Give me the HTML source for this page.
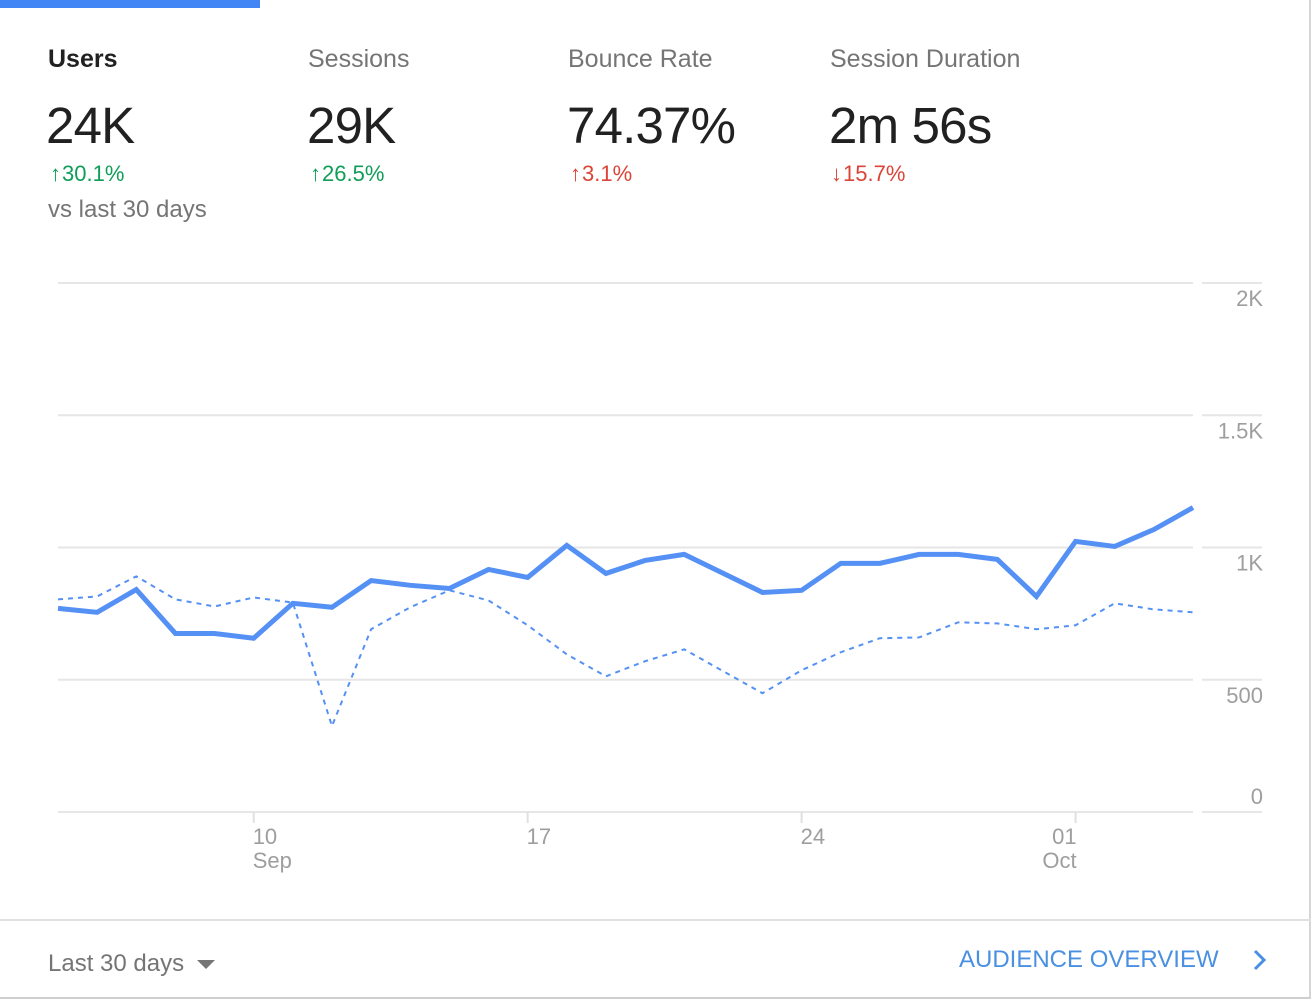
<!DOCTYPE html>
<html><head><meta charset="utf-8">
<style>
html,body{margin:0;padding:0;background:#fff;}
body{width:1314px;height:1002px;position:relative;overflow:hidden;font-family:"Liberation Sans",sans-serif;}
.card{position:absolute;left:0;top:0;width:1311px;height:999px;border-right:2px solid #d6d6d6;border-bottom:2px solid #cfcfcf;box-sizing:border-box;}
.tab{position:absolute;left:0;top:0;width:260px;height:8px;background:#4285f4;}
.m{position:absolute;white-space:nowrap;}
.t{font-size:25px;color:#757575;top:45px;}
.v{font-size:51px;color:#212121;top:96px;letter-spacing:-0.8px;}
.c{font-size:22px;top:161px;}
.c b{font-weight:bold;margin-right:1px;}
.up{color:#0f9d58;}
.dn{color:#db4437;}
svg{position:absolute;left:0;top:0;}
</style></head>
<body>
<div class="card"></div>
<div class="tab"></div>

<div class="m t" style="left:48px;color:#212121;font-weight:bold;">Users</div>
<div class="m t" style="left:308px;">Sessions</div>
<div class="m t" style="left:568px;">Bounce Rate</div>
<div class="m t" style="left:830px;">Session Duration</div>

<div class="m v" style="left:46px;">24K</div>
<div class="m v" style="left:307px;">29K</div>
<div class="m v" style="left:567px;">74.37%</div>
<div class="m v" style="left:829px;">2m 56s</div>

<div class="m c up" style="left:50px;"><b>↑</b>30.1%</div>
<div class="m c up" style="left:310px;"><b>↑</b>26.5%</div>
<div class="m c dn" style="left:570px;"><b>↑</b>3.1%</div>
<div class="m c dn" style="left:831px;"><b>↓</b>15.7%</div>
<div class="m" style="left:48px;top:196px;font-size:24px;color:#757575;">vs last 30 days</div>

<svg id="chart" width="1314" height="1002"></svg>

<div style="position:absolute;left:0;top:919px;width:1311px;height:2px;background:#e0e0e0;"></div>
<div class="m" style="left:48px;top:950px;font-size:24px;color:#757575;">Last 30 days <span style="display:inline-block;width:0;height:0;border-left:9px solid transparent;border-right:9px solid transparent;border-top:9px solid #757575;margin-left:6px;vertical-align:middle;"></span></div>
<div class="m" style="left:959px;top:946px;font-size:24px;color:#4a90e2;">AUDIENCE OVERVIEW</div>
<svg style="left:1250px;top:948px;" width="20" height="26"><polyline points="5,3 14,12 5,21" fill="none" stroke="#4a90e2" stroke-width="3"/></svg>

<script>
const days = ["Sep 5","Sep 6","Sep 7","Sep 8","Sep 9","Sep 10","Sep 11","Sep 12","Sep 13","Sep 14","Sep 15","Sep 16","Sep 17","Sep 18","Sep 19","Sep 20","Sep 21","Sep 22","Sep 23","Sep 24","Sep 25","Sep 26","Sep 27","Sep 28","Sep 29","Sep 30","Oct 1","Oct 2","Oct 3","Oct 4"];
const usersCurrent = [770,755,841,675,675,657,789,774,875,857,845,917,887,1008,902,951,974,902,830,838,940,940,974,974,955,815,1023,1004,1068,1151];
const usersPrevious = [804,815,891,804,777,811,792,325,691,774,838,800,706,596,513,570,615,532,449,536,604,657,660,717,713,691,706,789,766,755];
const yTicks = [0,500,1000,1500,2000];
const yTickLabels = ["0","500","1K","1.5K","2K"];
const xTickIdx = [5,12,19,26];
const xTickLabels = ["10","17","24","01"];
const xTickSub = ["Sep","","","Oct"];

const NS="http://www.w3.org/2000/svg";
const svg=document.getElementById('chart');
const X0=58,X1=1193,Y0=812,Y1=283,YMAX=2000;
function x(i){return X0+(X1-X0)*i/(days.length-1);}
function y(v){return Y0-(Y0-Y1)*v/YMAX;}
function mk(tag,attrs){const e=document.createElementNS(NS,tag);for(const k in attrs)e.setAttribute(k,attrs[k]);svg.appendChild(e);return e;}

yTicks.forEach((v,i)=>{
  const g1=mk('line',{x1:X0,x2:X1,y1:y(v),y2:y(v),stroke:'#e6e6e6','stroke-width':2});
  
  
  const g2=mk('line',{x1:1202,x2:1262,y1:y(v),y2:y(v),stroke:'#e6e6e6','stroke-width':2});
  
  
  const ty = v===0 ? y(v)-8 : y(v)+23;
  const t=mk('text',{x:1263,y:ty,'text-anchor':'end','font-size':22,fill:'#9e9e9e','font-family':'Liberation Sans, sans-serif'});
  t.textContent=yTickLabels[i];
  
  
});
xTickIdx.forEach((d,i)=>{
  const last = i===xTickIdx.length-1;
  const l=mk('line',{x1:x(d),x2:x(d),y1:Y0,y2:Y0+11,stroke:'#e0e0e0','stroke-width':2});
  
  
  const anchor = last ? 'end' : 'start';
  const tx = last ? x(d)+1 : x(d)-1;
  const t=mk('text',{x:tx,y:Y0+32,'text-anchor':anchor,'font-size':22,fill:'#9e9e9e','font-family':'Liberation Sans, sans-serif'});
  t.textContent=xTickLabels[i];
  
  
  if(xTickSub[i]){
    const s=mk('text',{x:tx,y:Y0+56,'text-anchor':anchor,'font-size':22,fill:'#9e9e9e','font-family':'Liberation Sans, sans-serif'});
    s.textContent=xTickSub[i];
    
    
  }
});
const prev=mk('polyline',{points:usersPrevious.map((v,i)=>x(i)+','+y(v)).join(' '),fill:'none',stroke:'#5591f5','stroke-width':2,'stroke-dasharray':'5,5'});


const cur=mk('polyline',{points:usersCurrent.map((v,i)=>x(i)+','+y(v)).join(' '),fill:'none',stroke:'#5591f5','stroke-width':5,'stroke-linejoin':'miter'});


</script>
</body></html>
